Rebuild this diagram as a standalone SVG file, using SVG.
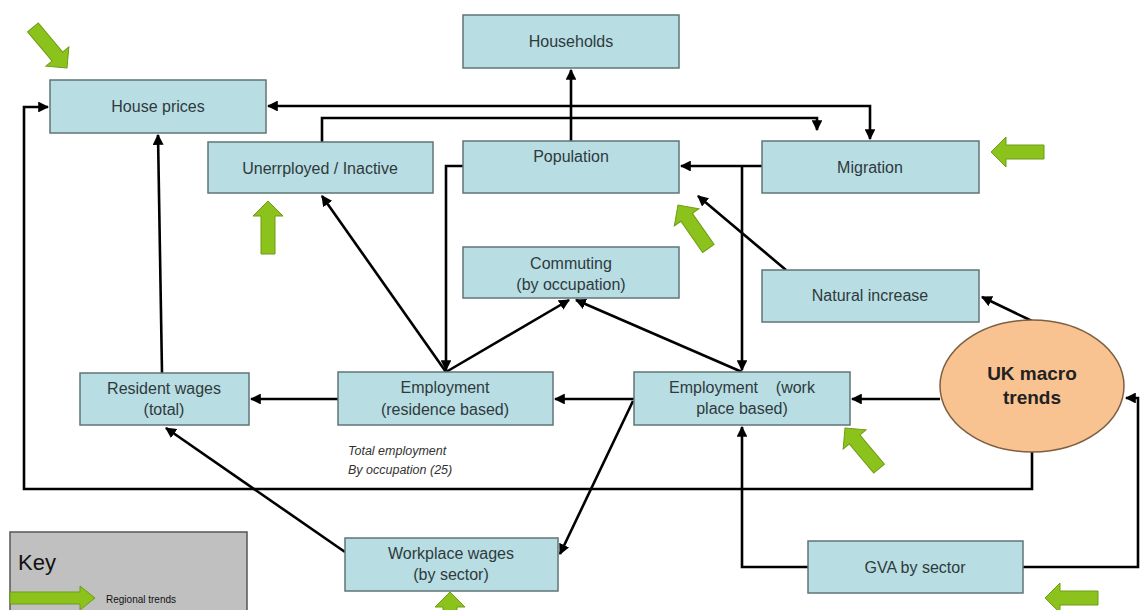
<svg xmlns="http://www.w3.org/2000/svg" width="1145" height="610" viewBox="0 0 1145 610">
<style>
.box{fill:#b8dde2;stroke:#5f7478;stroke-width:1.5}
.t{font-family:"Liberation Sans",Arial,sans-serif;font-size:16px;fill:#2e3a3e;text-anchor:middle}
.c{fill:none;stroke:#000;stroke-width:2.6;marker-end:url(#ah)}
.g{fill:#8cc21c;stroke:#6e9c14;stroke-width:1}
.it{font-family:"Liberation Sans",Arial,sans-serif;font-size:12.5px;font-style:italic;fill:#333}
</style>
<defs>
<marker id="ah" viewBox="0 0 10 10" refX="9" refY="5" markerWidth="4.2" markerHeight="4.2" orient="auto" markerUnits="strokeWidth">
<path d="M0,0 L10,5 L0,10 Z" fill="#000"/>
</marker>
<marker id="ahs" viewBox="0 0 10 10" refX="9" refY="5" markerWidth="4.2" markerHeight="4.2" orient="auto-start-reverse" markerUnits="strokeWidth">
<path d="M0,0 L10,5 L0,10 Z" fill="#000"/>
</marker>
<path id="garrow" d="M0,0 L-15,-15 L-15,-7 L-53,-7 L-53,7 L-15,7 L-15,15 Z"/>
</defs>

<g id="connectors">
<line class="c" x1="571" y1="141" x2="571" y2="70"/>
<polyline class="c" points="268,106 870,106 870,139" style="marker-start:url(#ahs)"/>
<polyline class="c" points="322,142 322,118 817,118 817,130"/>
<polyline class="c" points="463,166 446,166 446,370"/>
<line class="c" x1="762" y1="166" x2="681" y2="166"/>
<polyline class="c" points="742,166 742,370"/>
<line class="c" x1="786" y1="270" x2="698" y2="196"/>
<line class="c" x1="1032" y1="321" x2="982" y2="297"/>
<line class="c" x1="940" y1="399" x2="852" y2="399"/>
<polyline class="c" points="1032,452 1032,489 24,489 24,107 48,107"/>
<polyline class="c" points="1023,567 1138,567 1138,398 1126,398"/>
<polyline class="c" points="808,567 742,567 742,427"/>
<line class="c" x1="634" y1="399" x2="555" y2="399"/>
<line class="c" x1="633" y1="401" x2="560" y2="554"/>
<line class="c" x1="338" y1="399" x2="251" y2="399"/>
<line class="c" x1="162" y1="373" x2="158" y2="135"/>
<line class="c" x1="345" y1="552" x2="166" y2="428"/>
<line class="c" x1="446" y1="372" x2="322" y2="196"/>
<line class="c" x1="446" y1="372" x2="569" y2="300"/>
<line class="c" x1="742" y1="372" x2="576" y2="300"/>
</g>

<g id="households"><rect class="box" x="463" y="15" width="216" height="53"/><text class="t" x="571" y="47">Households</text></g>
<g id="house-prices"><rect class="box" x="50" y="80" width="216" height="53"/><text class="t" x="158" y="112">House prices</text></g>
<g id="unemployed"><rect class="box" x="208" y="142" width="225" height="51"/><text class="t" x="320" y="174">Unerrployed / Inactive</text></g>
<g id="population"><rect class="box" x="463" y="141" width="216" height="52"/><text class="t" x="571" y="162">Population</text></g>
<g id="migration"><rect class="box" x="762" y="141" width="217" height="52"/><text class="t" x="870" y="173">Migration</text></g>
<g id="natural-increase"><rect class="box" x="762" y="270" width="217" height="52"/><text class="t" x="870" y="301">Natural increase</text></g>
<g id="commuting"><rect class="box" x="463" y="247" width="216" height="51"/><text class="t" x="571" y="269">Commuting</text><text class="t" x="571" y="290">(by occupation)</text></g>
<g id="resident-wages"><rect class="box" x="80" y="373" width="169" height="52"/><text class="t" x="164" y="394">Resident wages</text><text class="t" x="164" y="415">(total)</text></g>
<g id="employment-res"><rect class="box" x="338" y="372" width="215" height="53"/><text class="t" x="445" y="393">Employment</text><text class="t" x="445" y="415">(residence based)</text></g>
<g id="employment-work"><rect class="box" x="634" y="372" width="216" height="53"/><text class="t" x="742" y="393" xml:space="preserve">Employment    (work</text><text class="t" x="742" y="414">place based)</text></g>
<g id="uk-macro"><ellipse cx="1032" cy="386" rx="92" ry="66" fill="#f9c291" stroke="#7d6040" stroke-width="1.5"/><text class="t" x="1032" y="380" style="font-weight:bold;font-size:19px;fill:#222">UK macro</text><text class="t" x="1032" y="404" style="font-weight:bold;font-size:19px;fill:#222">trends</text></g>
<g id="workplace-wages"><rect class="box" x="345" y="538" width="213" height="53"/><text class="t" x="451" y="559">Workplace wages</text><text class="t" x="451" y="580">(by sector)</text></g>
<g id="gva"><rect class="box" x="808" y="541" width="215" height="52"/><text class="t" x="915" y="573">GVA by sector</text></g>

<g id="note"><text class="it" x="348" y="455">Total employment</text><text class="it" x="348" y="474">By occupation (25)</text></g>

<g id="green-arrows">
<use href="#garrow" class="g" transform="translate(67,68) rotate(50)"/>
<use href="#garrow" class="g" transform="translate(268,201) rotate(-90)"/>
<use href="#garrow" class="g" transform="translate(678,205) rotate(-125)"/>
<use href="#garrow" class="g" transform="translate(991,152) rotate(180)"/>
<use href="#garrow" class="g" transform="translate(845,428) rotate(-130)"/>
<use href="#garrow" class="g" transform="translate(450,592) rotate(-90)"/>
<use href="#garrow" class="g" transform="translate(1045,598) rotate(180)"/>
</g>

<g id="key">
<rect x="10" y="532" width="237" height="90" fill="#c0c0c0" stroke="#555" stroke-width="1.5"/>
<text x="18" y="570" style="font-family:'Liberation Sans',Arial,sans-serif;font-size:22px;fill:#111">Key</text>
<path class="g" d="M95,598 L80,586 L80,592 L10,592 L10,604 L80,604 L80,610 Z"/>
<text x="106" y="603" style="font-family:'Liberation Sans',Arial,sans-serif;font-size:10px;fill:#111">Regional trends</text>
</g>
</svg>
